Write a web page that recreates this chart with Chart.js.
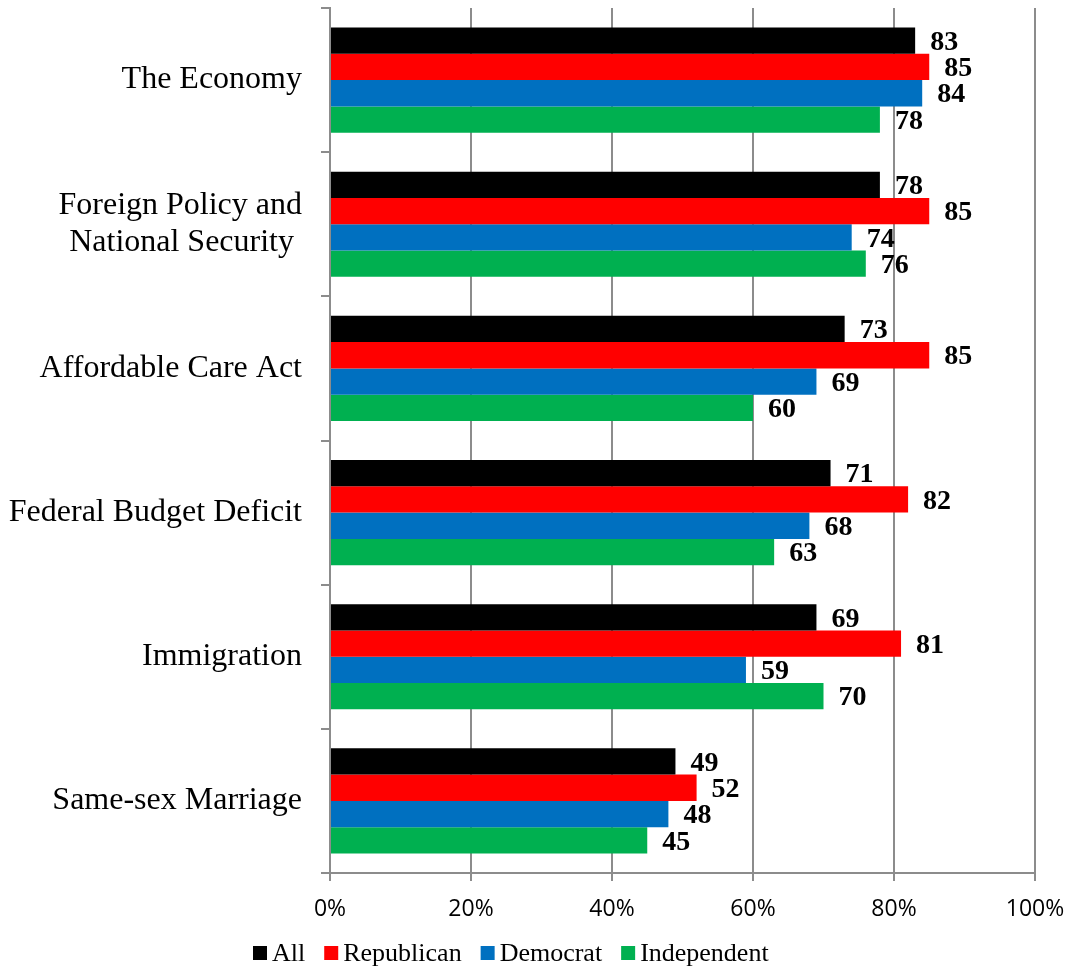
<!DOCTYPE html>
<html>
<head>
<meta charset="utf-8">
<script src="https://cdn.jsdelivr.net/npm/chart.js@4.4.1/dist/chart.umd.min.js"></script>
<style>
  html, body { margin: 0; padding: 0; background: #ffffff; }
  #wrap { position: relative; width: 1069px; height: 971px; }
</style>
</head>
<body>
<div id="wrap"><canvas id="c" width="1069" height="971"></canvas></div>
<script>
const categories = [
  'The Economy',
  ['Foreign Policy and', 'National Security '],
  'Affordable Care Act',
  'Federal Budget Deficit',
  'Immigration',
  'Same-sex Marriage'
];
const seriesNames = ['All', 'Republican', 'Democrat', 'Independent'];
const allValues = [83, 78, 73, 71, 69, 49];
const republicanValues = [85, 85, 85, 82, 81, 52];
const democratValues = [84, 74, 69, 68, 59, 48];
const independentValues = [78, 76, 60, 63, 70, 45];
const xTickValues = [0, 20, 40, 60, 80, 100];
const seriesColors = ['#000000', '#FF0000', '#0070C0', '#00B050'];

const AXIS_GRAY = '#8c8c8c';

const valueLabels = {
  id: 'valueLabels',
  afterDatasetsDraw(chart) {
    const ctx = chart.ctx;
    ctx.save();
    ctx.font = 'bold 28px "Liberation Serif", "Times New Roman", serif';
    ctx.fillStyle = '#000000';
    ctx.textAlign = 'left';
    ctx.textBaseline = 'middle';
    chart.data.datasets.forEach((ds, i) => {
      const meta = chart.getDatasetMeta(i);
      meta.data.forEach((bar, j) => {
        ctx.fillText(String(ds.data[j]), bar.x + 15, bar.y + 2);
      });
    });
    ctx.restore();
  }
};

const customLegend = {
  id: 'customLegend',
  afterDraw(chart) {
    const ctx = chart.ctx;
    ctx.save();
    ctx.font = '26px "Liberation Serif", "Times New Roman", serif';
    ctx.textBaseline = 'alphabetic';
    ctx.textAlign = 'left';
    const box = 14, gapBox = 5, gapItem = 19;
    let x = 253;
    const baseline = 961;
    chart.data.datasets.forEach((ds) => {
      ctx.fillStyle = ds.backgroundColor;
      ctx.fillRect(x, baseline - 15, box, box);
      x += box + gapBox;
      ctx.fillStyle = '#000000';
      ctx.fillText(ds.label, x, baseline);
      x += ctx.measureText(ds.label).width + gapItem;
    });
    ctx.restore();
  }
};

const valueSets = [allValues, republicanValues, democratValues, independentValues];

new Chart(document.getElementById('c'), {
  type: 'bar',
  data: {
    labels: categories,
    datasets: seriesNames.map((name, i) => ({
      label: name,
      data: valueSets[i],
      backgroundColor: seriesColors[i],
      borderWidth: 0,
      categoryPercentage: 0.73,
      barPercentage: 1.0
    }))
  },
  options: {
    indexAxis: 'y',
    responsive: false,
    animation: false,
    layout: { padding: { top: 8, right: 34, left: 0, bottom: 0 } },
    plugins: {
      legend: { display: false },
      tooltip: { enabled: false }
    },
    scales: {
      x: {
        min: 0,
        max: 100,
        afterBuildTicks(scale) {
          scale.ticks = xTickValues.map(v => ({ value: v }));
        },
        afterFit(scale) {
          scale.height = 98;
          scale.paddingLeft = 0;
          scale.paddingRight = 0;
        },
        ticks: {
          callback: (v) => v + '%',
          color: '#000000',
          font: { family: '"Open Sans", "Liberation Sans", sans-serif', size: 23 },
          padding: 15
        },
        grid: {
          color: AXIS_GRAY,
          lineWidth: 2,
          drawTicks: true,
          tickLength: 8
        },
        border: { display: true, color: AXIS_GRAY, width: 2 }
      },
      y: {
        afterFit(scale) {
          scale.width = 330;
          scale.paddingTop = 0;
          scale.paddingBottom = 0;
        },
        ticks: {
          color: '#000000',
          font: { family: '"Liberation Serif", "Times New Roman", serif', size: 32, lineHeight: 1.15 },
          padding: 19
        },
        grid: {
          offset: true,
          drawOnChartArea: false,
          drawTicks: true,
          tickLength: 9,
          color: AXIS_GRAY,
          lineWidth: 2
        },
        border: { display: true, color: AXIS_GRAY, width: 2 }
      }
    }
  },
  plugins: [valueLabels, customLegend]
});
</script>
</body>
</html>
